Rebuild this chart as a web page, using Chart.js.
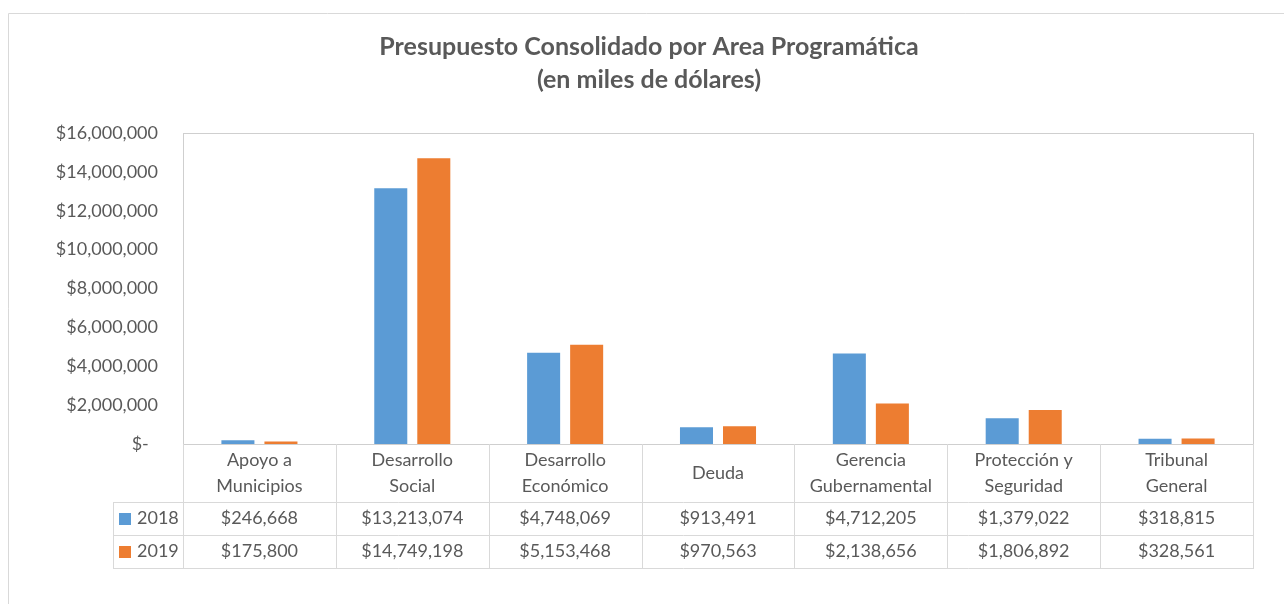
<!DOCTYPE html>
<html>
<head>
<meta charset="utf-8">
<script src="https://cdn.jsdelivr.net/npm/chart.js@4.4.1/dist/chart.umd.min.js"></script>
<style>
  html, body { margin: 0; padding: 0; background: #ffffff; }
  #wrap { position: absolute; left: 0; top: 0; width: 1284px; height: 604px; }
</style>
</head>
<body>
<div id="wrap"><canvas id="c" width="1284" height="604"></canvas></div>
<script>
// ---- data ----
const categories = [
  ["Apoyo a", "Municipios"],
  ["Desarrollo", "Social"],
  ["Desarrollo", "Económico"],
  ["Deuda"],
  ["Gerencia", "Gubernamental"],
  ["Protección y", "Seguridad"],
  ["Tribunal", "General"]
];
const seriesNames = ["2018", "2019"];
const values2018 = [246668, 13213074, 4748069, 913491, 4712205, 1379022, 318815];
const values2019 = [175800, 14749198, 5153468, 970563, 2138656, 1806892, 328561];
const yTicks = [0, 2000000, 4000000, 6000000, 8000000, 10000000, 12000000, 14000000, 16000000];
const titleLines = ["Presupuesto Consolidado por Area Programática", "(en miles de dólares)"];

// ---- style ----
const FONT = "Lato, 'Open Sans', sans-serif";
const TEXT = "#595959";
const BLUE = "#5B9BD5";
const ORANGE = "#ED7D31";
const LINE = "#D9D9D9";

function money(v) {
  if (v === 0) return "$-  ";
  return "$" + v.toLocaleString("en-US");
}

const tablePlugin = {
  id: "excelTable",
  beforeDraw(chart) {
    const ctx = chart.ctx;
    ctx.save();
    ctx.strokeStyle = LINE;
    ctx.lineWidth = 1;
    ctx.beginPath();
    ctx.moveTo(8.5, 604);
    ctx.lineTo(8.5, 13.5);
    ctx.lineTo(1284, 13.5);
    ctx.stroke();
    ctx.restore();
  },
  afterDraw(chart) {
    const ctx = chart.ctx;
    const a = chart.chartArea;
    const xs = chart.scales.x;
    const n = categories.length;
    const colW = (a.right - a.left) / n;
    const headerBottom = a.bottom + 58;
    const rowH = 33;
    const row1Bottom = headerBottom + rowH;
    const row2Bottom = row1Bottom + rowH;
    const legLeft = 113;

    ctx.save();
    // plot area border
    ctx.strokeStyle = "#CFCFCF";
    ctx.lineWidth = 1;
    ctx.strokeRect(Math.round(a.left) + 0.5, Math.round(a.top) + 0.5,
                   Math.round(a.right - a.left), Math.round(a.bottom - a.top));

    // table lines
    ctx.strokeStyle = LINE;
    ctx.beginPath();
    for (let i = 0; i <= n; i++) {
      const x = Math.round(a.left + i * colW) + 0.5;
      ctx.moveTo(x, a.bottom);
      ctx.lineTo(x, row2Bottom);
    }
    [headerBottom, row1Bottom, row2Bottom].forEach(y => {
      ctx.moveTo(legLeft, Math.round(y) + 0.5);
      ctx.lineTo(Math.round(a.right) + 1, Math.round(y) + 0.5);
    });
    ctx.moveTo(legLeft + 0.5, headerBottom);
    ctx.lineTo(legLeft + 0.5, row2Bottom);
    ctx.stroke();

    // text
    ctx.fillStyle = TEXT;
    ctx.font = "18px " + FONT;
    ctx.textAlign = "center";
    ctx.textBaseline = "middle";
    const headerMid = (a.bottom + headerBottom) / 2;
    const lh = 26;
    categories.forEach((lines, i) => {
      const cx = xs.getPixelForValue(i);
      const y0 = headerMid - (lines.length - 1) * lh / 2;
      lines.forEach((t, k) => ctx.fillText(t, cx, y0 + k * lh));
    });
    const rows = [values2018, values2019];
    const colors = [BLUE, ORANGE];
    rows.forEach((vals, r) => {
      const yMid = headerBottom + rowH * r + rowH / 2;
      ctx.textAlign = "center";
      vals.forEach((v, i) => ctx.fillText(money(v), xs.getPixelForValue(i), yMid));
      ctx.fillStyle = colors[r];
      ctx.fillRect(119, Math.round(yMid - 6), 12, 12);
      ctx.fillStyle = TEXT;
      ctx.textAlign = "left";
      ctx.fillText(seriesNames[r], 137, yMid);
    });
    ctx.restore();
  }
};

new Chart(document.getElementById("c"), {
  type: "bar",
  data: {
    labels: categories,
    datasets: [
      { label: seriesNames[0], data: values2018, backgroundColor: BLUE,
        borderColor: "rgba(255,255,255,0.35)", borderWidth: 1,
        categoryPercentage: 0.563, barPercentage: 0.814 },
      { label: seriesNames[1], data: values2019, backgroundColor: ORANGE,
        borderColor: "rgba(255,255,255,0.35)", borderWidth: 1,
        categoryPercentage: 0.563, barPercentage: 0.814 }
    ]
  },
  options: {
    responsive: false,
    animation: false,
    layout: { padding: { left: 45, right: 31, top: 0, bottom: 160 } },
    plugins: {
      legend: { display: false },
      tooltip: { enabled: false },
      title: {
        display: true,
        text: titleLines,
        color: TEXT,
        font: { family: FONT, size: 25, weight: "bold", lineHeight: 33 / 25 },
        padding: { top: 30.5, bottom: 36.5 }
      }
    },
    scales: {
      x: { display: false },
      y: {
        min: 0, max: 16000000,
        afterBuildTicks(scale) { scale.ticks = yTicks.map(v => ({ value: v })); },
        afterFit(scale) { scale.width = 138; },
        grid: { display: false, drawTicks: false },
        border: { display: false },
        ticks: {
          color: TEXT,
          font: { family: FONT, size: 18 },
          padding: 25,
          callback: v => money(v)
        }
      }
    }
  },
  plugins: [tablePlugin]
});
</script>
</body>
</html>
